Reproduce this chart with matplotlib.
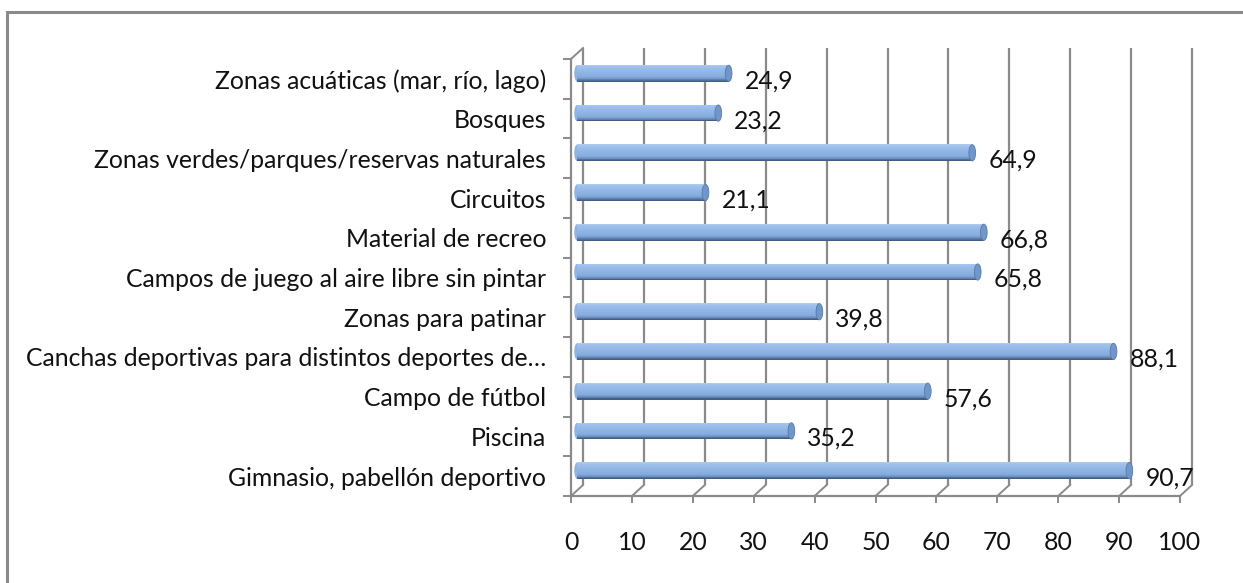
import matplotlib
matplotlib.use("Agg")
import matplotlib.pyplot as plt
import matplotlib.transforms as mtransforms
from matplotlib.patches import Ellipse, Rectangle
from matplotlib.colors import LinearSegmentedColormap
import numpy as np

categories = [
    "Gimnasio, pabellón deportivo",
    "Piscina",
    "Campo de fútbol",
    "Canchas deportivas para distintos deportes de…",
    "Zonas para patinar",
    "Campos de juego al aire libre sin pintar",
    "Material de recreo",
    "Circuitos",
    "Zonas verdes/parques/reservas naturales",
    "Bosques",
    "Zonas acuáticas (mar, río, lago)",
]
values = [90.7, 35.2, 57.6, 88.1, 39.8, 65.8, 66.8, 21.1, 64.9, 23.2, 24.9]
value_labels = ["90,7", "35,2", "57,6", "88,1", "39,8", "65,8", "66,8", "21,1", "64,9", "23,2", "24,9"]
xticks = [0, 10, 20, 30, 40, 50, 60, 70, 80, 90, 100]

W, H, DPI = 1243, 583, 100
plt.rcParams["font.family"] = ["Lato", "DejaVu Sans"]
fig = plt.figure(figsize=(W / DPI, H / DPI), dpi=DPI)
fig.patch.set_facecolor("white")

FS = 17.8
# front plane in pixel coords
x0, x1 = 571, 1180
ytop, ybot = 59, 496
ax = fig.add_axes([x0 / W, (H - ybot) / H, (x1 - x0) / W, (ybot - ytop) / H])
ax.set_xlim(0, 100)
n = len(categories)
ax.set_ylim(-0.5, n - 0.5)
ax.set_facecolor("none")
for s in ax.spines.values():
    s.set_visible(False)

grid_c = "#8a8a8a"
DX, DY = 12, 11  # depth offset in pixels
back = ax.transData + mtransforms.ScaledTranslation(DX / DPI, DY / DPI, fig.dpi_scale_trans)
mid = ax.transData + mtransforms.ScaledTranslation(DX / 2 / DPI, DY / 2 / DPI, fig.dpi_scale_trans)

# outer border (left and top visible)
fig.add_artist(Rectangle((7 / W, -0.1), 1.2, (H - 12) / H + 0.1, transform=fig.transFigure,
                         fill=False, edgecolor="#8a8a8a", linewidth=2.2))

ylo, yhi = -0.5, n - 0.5
for v in xticks:
    ax.plot([v, v], [ylo, yhi], color=grid_c, lw=1.6, transform=back, solid_capstyle="butt", clip_on=False)
    p0 = ax.transData.transform((v, ylo))
    p1 = back.transform((v, ylo))
    ax.plot([p0[0], p1[0]], [p0[1], p1[1]], color=grid_c, lw=1.4, transform=None, clip_on=False)
ax.plot([0, 0], [ylo, yhi], color=grid_c, lw=1.6, clip_on=False)
p0 = ax.transData.transform((0, yhi))
p1 = back.transform((0, yhi))
ax.plot([p0[0], p1[0]], [p0[1], p1[1]], color=grid_c, lw=1.4, transform=None, clip_on=False)
ax.plot([0, 100], [ylo, ylo], color=grid_c, lw=1.6, clip_on=False)

# ticks
ax.set_xticks(xticks)
ax.set_xticklabels([str(t) for t in xticks], fontsize=FS, color="#111111")
ax.tick_params(axis="x", length=5, width=1.4, color=grid_c, pad=20)
ax.set_yticks(np.arange(n))
ax.set_yticklabels(categories, fontsize=FS, color="#111111")
ax.tick_params(axis="y", length=0, pad=18)
ax.set_yticks(np.arange(n + 1) - 0.5, minor=True)
ax.tick_params(axis="y", which="minor", length=6, width=1.4, color=grid_c)

# cylinder bars with smooth vertical gradient (top -> bottom)
bh = 0.41
cmap = LinearSegmentedColormap.from_list(
    "cyl", [(0.0, "#aecbef"), (0.12, "#9fc0ec"), (0.45, "#8fb5e5"), (0.72, "#86acdd"),
            (0.85, "#6f92c4"), (0.94, "#516f9b"), (1.0, "#3c5679")])
ns = 24
ypos = np.arange(n)
for k in range(ns):
    off = bh / 2 - (k + 0.5) * bh / ns
    ax.barh(ypos + off, values, height=bh / ns * 1.6, left=0, color=cmap((k + 0.5) / ns),
            edgecolor="none", linewidth=0, transform=mid, zorder=3 + k * 0.001)
for yi, v in zip(ypos, values):
    ax.add_patch(Ellipse((0, yi), 0.9, bh, facecolor="#8fb4e3", edgecolor="none", transform=mid, zorder=2.9))
    ax.add_patch(Ellipse((v, yi), 1.1, bh, facecolor="#7196c9", edgecolor="#587aa6", lw=0.6,
                         transform=mid, zorder=4))

# value labels
lab_tr = ax.transData + mtransforms.ScaledTranslation(22 / DPI, -2 / DPI, fig.dpi_scale_trans)
for yi, v, t in zip(ypos, values, value_labels):
    ax.text(v, yi, t, transform=lab_tr, ha="left", va="center", fontsize=FS, color="#111111", zorder=5)

fig.savefig("out.png", dpi=DPI, facecolor="white")
